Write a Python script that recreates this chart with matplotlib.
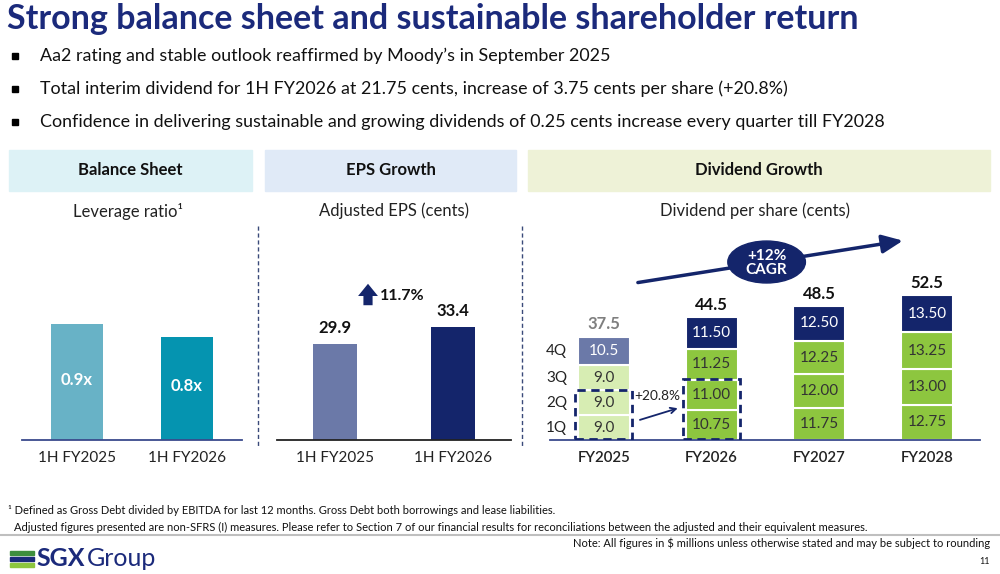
import matplotlib
matplotlib.use("Agg")
import matplotlib.pyplot as plt
from matplotlib.patches import Rectangle, Ellipse
from matplotlib.lines import Line2D

plt.rcParams['font.family'] = ['Lato', 'DejaVu Sans']

# data
lev_labels = ['1H FY2025', '1H FY2026']
lev_values = [0.9, 0.8]
eps_labels = ['1H FY2025', '1H FY2026']
eps_values = [29.9, 33.4]
eps_growth = '11.7%'
div_years = ['FY2025', 'FY2026', 'FY2027', 'FY2028']
quarters = ['1Q', '2Q', '3Q', '4Q']
q1 = [9.0, 10.75, 11.75, 12.75]
q2 = [9.0, 11.00, 12.00, 13.00]
q3 = [9.0, 11.25, 12.25, 13.25]
q4 = [10.5, 11.50, 12.50, 13.50]
totals = [37.5, 44.5, 48.5, 52.5]

bullets = [
    "Aa2 rating and stable outlook reaffirmed by Moody\u2019s in September 2025",
    "Total interim dividend for 1H FY2026 at 21.75 cents, increase of 3.75 cents per share (+20.8%)",
    "Confidence in delivering sustainable and growing dividends of 0.25 cents increase every quarter till FY2028",
]

NAVY = '#14256B'
TITLE = '#1B2A7B'
LIME = '#8DC63F'
PALE = '#D7EDB3'
SLATE = '#6B79A8'

W, H = 1000, 574
fig = plt.figure(figsize=(10, 5.74), dpi=100)


def fx(x):
    return x / W


def fy(y):
    return 1 - y / H


def box(x0, y0, x1, y1):
    return [x0 / W, 1 - y1 / H, (x1 - x0) / W, (y1 - y0) / H]


# title and bullets
fig.text(fx(7), fy(19), "Strong balance sheet and sustainable shareholder return",
         fontsize=24.5, fontweight='bold', color=TITLE, va='center')
for i, b in enumerate(bullets):
    y = 56 + i * 33
    fig.add_artist(Rectangle((fx(12), fy(y + 3)), 6 / W, 6 / H, color='black',
                             transform=fig.transFigure))
    fig.text(fx(40), fy(y), b, fontsize=12.9, color='#111111', va='center')

# section headers
headers = [("Balance Sheet", 9, 252, '#DDF2F6'),
           ("EPS Growth", 265, 516, '#E0EAF7'),
           ("Dividend Growth", 528, 990, '#EEF2D7')]
for name, x0, x1, c in headers:
    fig.add_artist(Rectangle((fx(x0), fy(191)), (x1 - x0) / W, 41 / H, color=c,
                             transform=fig.transFigure, zorder=0))
    fig.text(fx((x0 + x1) / 2), fy(170), name, fontsize=12, fontweight='bold',
             ha='center', va='center', color='#111111')

fig.text(fx(128), fy(211), "Leverage ratio\u00b9", fontsize=12, ha='center', va='center', color='#222222')
fig.text(fx(394), fy(211), "Adjusted EPS (cents)", fontsize=12, ha='center', va='center', color='#222222')
fig.text(fx(755), fy(211), "Dividend per share (cents)", fontsize=12, ha='center', va='center', color='#222222')

for x in (258, 522):
    fig.add_artist(Line2D([fx(x), fx(x)], [fy(226), fy(446)], color='#3A4A7A', lw=1,
                          linestyle=(0, (3, 2)), transform=fig.transFigure))


def style_axis(ax, labels, base_color, bold=False):
    for s in ('top', 'right', 'left'):
        ax.spines[s].set_visible(False)
    ax.spines['bottom'].set_color(base_color)
    ax.spines['bottom'].set_linewidth(1.3)
    ax.set_yticks([])
    ax.set_xticks(range(len(labels)))
    ax.set_xticklabels(labels, fontsize=10.8 if bold else 11, color='#222222',
                       fontweight='semibold' if bold else 'normal')
    ax.tick_params(axis='x', length=0, pad=8)
    ax.patch.set_alpha(0)


# leverage chart
ax1 = fig.add_axes(box(22, 230, 242, 440))
ax1.bar(range(2), lev_values, width=0.47, color=['#68B2C6', '#0594B0'])
for i, v in enumerate(lev_values):
    ax1.text(i, v * 0.52, f"{v:.1f}x", color='white', fontsize=12, fontweight='bold',
             ha='center', va='center')
ax1.set_xlim(-0.5, 1.5)
ax1.set_ylim(0, 1.63)
style_axis(ax1, lev_labels, '#3A4A8C')

# EPS chart
ax2 = fig.add_axes(box(277, 230, 511, 440))
ax2.bar(range(2), eps_values, width=0.37, color=[SLATE, NAVY])
for i, v in enumerate(eps_values):
    ax2.text(i, v + 1.6, f"{v:.1f}", color='#111111', fontsize=12, fontweight='bold',
             ha='center', va='bottom')
ax2.set_xlim(-0.49, 1.49)
ax2.set_ylim(10.1, 53.3)
style_axis(ax2, eps_labels, '#222222')
ax2.annotate('', xy=(368, H - 281), xytext=(368, H - 308), xycoords='figure pixels',
             textcoords='figure pixels',
             arrowprops=dict(arrowstyle='simple,head_width=1.3,head_length=0.8,tail_width=0.6',
                             mutation_scale=11, color=NAVY, lw=0))
fig.text(fx(380), fy(296), eps_growth, fontsize=11.5, fontweight='bold', color='#111111', va='center')

# dividend chart
ax3 = fig.add_axes(box(550, 230, 980, 440))
bottom = [0.0] * 4
for qi, vals in enumerate([q1, q2, q3, q4]):
    for i, v in enumerate(vals):
        if i == 0:
            c = SLATE if qi == 3 else PALE
        else:
            c = NAVY if qi == 3 else LIME
        ax3.bar(i, v, bottom=bottom[i], width=0.483, color=c, edgecolor='white', linewidth=1.5)
        tc = 'white' if qi == 3 else '#333333'
        txt = f"{v:.1f}" if i == 0 else f"{v:.2f}"
        ax3.text(i, bottom[i] + v / 2, txt, color=tc, fontsize=11, ha='center', va='center')
    ax3.text(-0.44, bottom[0] + vals[0] / 2, quarters[qi], fontsize=11, color='#222222',
             ha='center', va='center')
    bottom = [b + v for b, v in zip(bottom, vals)]
for i, t in enumerate(totals):
    ax3.text(i, bottom[i] + 1.6, f"{t:.1f}", fontsize=12, fontweight='bold',
             color='#7F7F7F' if i == 0 else '#111111', ha='center', va='bottom')

# dashed boxes around 1H quarters
for i in (0, 1):
    h = q1[i] + q2[i]
    ax3.add_patch(Rectangle((i - 0.265, 0.2), 0.53, h, fill=False, edgecolor=NAVY, lw=2,
                            linestyle=(0, (3, 2)), zorder=5))
ax3.annotate('', xy=(0.71, 11.8), xytext=(0.31, 7.0),
             arrowprops=dict(arrowstyle='->', color=NAVY, lw=1.3))
ax3.text(0.495, 15.8, "+20.8%", fontsize=9.8, color='#222222', ha='center', va='center')

# CAGR arrow
ax3.annotate('', xy=(2.8, 72.4), xytext=(0.29, 56.9),
             arrowprops=dict(arrowstyle='-|>,head_width=0.4,head_length=0.9', color=NAVY, lw=2.5,
                             mutation_scale=14), annotation_clip=False)
ax3.add_patch(Ellipse((1.51, 64.5), 0.72, 15.2, color=NAVY, zorder=6, clip_on=False))
ax3.text(1.51, 64.0, "+12%\nCAGR", color='white', fontsize=11, fontweight='bold', ha='center',
         va='center', linespacing=1.0, zorder=7)
ax3.set_xlim(-0.5, 3.49)
ax3.set_ylim(0, 76.1)
style_axis(ax3, div_years, '#3A4A8C', bold=True)

# footer
fig.text(fx(8), fy(511), "\u00b9 Defined as Gross Debt divided by EBITDA for last 12 months. Gross Debt both borrowings and lease liabilities.",
         fontsize=8, color='#111111', va='center')
fig.text(fx(14), fy(527), "Adjusted figures presented are non-SFRS (I) measures. Please refer to Section 7 of our financial results for reconciliations between the adjusted and their equivalent measures.",
         fontsize=8, color='#111111', va='center')
fig.add_artist(Line2D([0, 1], [fy(535), fy(535)], color='#BFBFBF', lw=1.5, transform=fig.transFigure))
fig.text(fx(990), fy(543), "Note: All figures in $ millions unless otherwise stated and may be subject to rounding",
         fontsize=8, color='#111111', ha='right', va='center')
fig.text(fx(990), fy(561), "11", fontsize=6.5, color='#111111', ha='right', va='center')

# logo
for k, c in enumerate(['#3E8E3E', '#1B2A7B', '#8DC63F']):
    fig.add_artist(Rectangle((fx(10), fy(551 + k * 6 + 4)), 24 / W, 4 / H, color=c,
                             transform=fig.transFigure))
fig.text(fx(36), fy(558), "SGX", fontsize=18, fontweight='bold', color=TITLE, va='center')
fig.text(fx(87), fy(558), "Group", fontsize=18, color=TITLE, va='center')

fig.savefig("out.png", dpi=100)
